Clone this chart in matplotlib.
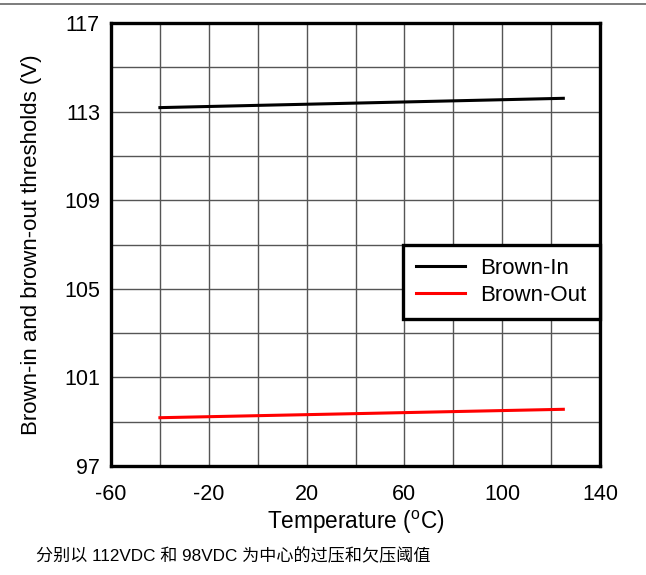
import matplotlib.pyplot as plt
from matplotlib.lines import Line2D

plt.rcParams['font.family'] = ['Liberation Sans', 'Noto Sans CJK SC', 'DejaVu Sans']
plt.rcParams['axes.unicode_minus'] = False

# data
temperatura = [-40, 125]
brown_in = [113.18, 113.6]
brown_out = [99.18, 99.56]

x_ticks = [-60, -20, 20, 60, 100, 140]
y_ticks = [97, 101, 105, 109, 113, 117]

fig = plt.figure(figsize=(6.46, 5.75), dpi=100)
ax = fig.add_axes([111 / 646, 1 - 466 / 575, 489 / 646, 443 / 575])

ax.plot(temperatura, brown_in, color='black', lw=2.2, label='Brown-In', zorder=3)
ax.plot(temperatura, brown_out, color='red', lw=2.2, label='Brown-Out', zorder=3)

ax.set_xlim(-60, 140)
ax.set_ylim(97, 117)
ax.set_xticks(x_ticks)
ax.set_yticks(y_ticks)
ax.set_xticks(range(-60, 141, 20), minor=True)
ax.set_yticks(range(97, 118, 2), minor=True)
ax.grid(True, which='both', color='#555555', lw=1.0)
ax.tick_params(which='both', length=0, labelsize=15.5)
ax.tick_params(axis='x', pad=13)
ax.tick_params(axis='y', pad=8)

for s in ax.spines.values():
    s.set_linewidth(2.4)

ax.set_xlabel('Temperature ($\\mathregular{^oC}$)', fontsize=16.3, labelpad=3)
ax.set_ylabel('Brown-in and brown-out thresholds (V)', fontsize=16, labelpad=16)

leg = ax.legend(loc='upper right', bbox_to_anchor=(1.0, 0.499), borderaxespad=0,
                fontsize=16, frameon=True, fancybox=False, framealpha=1,
                edgecolor='black', borderpad=0.6, handlelength=2.2,
                handletextpad=0.7, labelspacing=0.25)
leg.get_frame().set_linewidth(2.4)

# linia u gory strony
fig.add_artist(Line2D([0, 1], [1 - 4 / 575, 1 - 4 / 575], color='#666666', lw=1.2))

fig.text(36 / 646, 1 - 556 / 575, '分别以 112VDC 和 98VDC 为中心的过压和欠压阈值',
         fontsize=12.3, va='center', ha='left')

fig.savefig('out.png', dpi=100)
